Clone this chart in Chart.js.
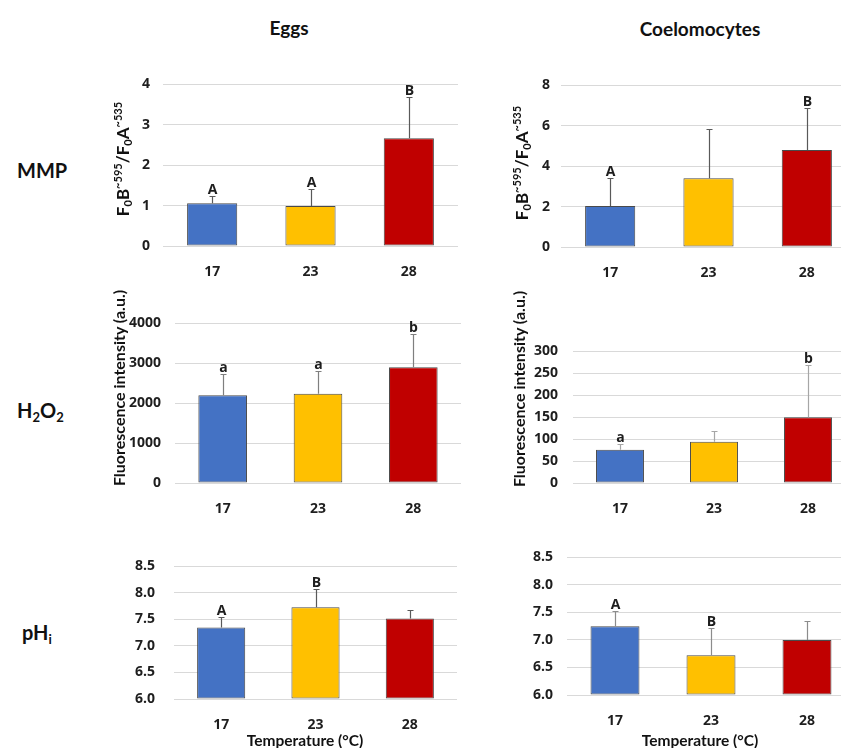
<!DOCTYPE html>
<html>
<head>
<meta charset="utf-8">
<script src="https://cdn.jsdelivr.net/npm/chart.js@4.4.1/dist/chart.umd.min.js"></script>
<style>
  html, body { margin:0; padding:0; background:#fff; overflow:hidden; }
  body { width:841px; height:748px; position:relative; font-family:Lato, "DejaVu Sans", sans-serif; color:#111; }
  canvas.pane { position:absolute; }
  .lbl { position:absolute; font-weight:700; white-space:nowrap; line-height:1; transform:translate(0,-50%); }
  .ctr { transform:translate(-50%,-50%); }
  .ytitle { position:absolute; font-weight:700; white-space:nowrap; line-height:1; transform:translate(-50%,-50%) rotate(-90deg); }
  .lbl sub, .ytitle sub { font-size:0.65em; vertical-align:-0.3em; line-height:0; }
  .ytitle sup { font-size:0.65em; vertical-align:0.55em; line-height:0; }
</style>
</head>
<body>
<div class="lbl ctr" style="left:289px;top:27px;font-size:19px">Eggs</div>
<div class="lbl ctr" style="left:700px;top:28px;font-size:19px">Coelomocytes</div>

<div class="lbl" style="left:17px;top:170px;font-size:20px">MMP</div>
<div class="lbl" style="left:17px;top:410px;font-size:20px">H<sub>2</sub>O<sub>2</sub></div>
<div class="lbl" style="left:22px;top:632px;font-size:20px">pH<sub>i</sub></div>

<div class="ytitle" style="left:122px;top:159px;font-size:17px">F<sub>0</sub>B<sup>~595</sup>/F<sub>0</sub>A<sup>~535</sup></div>
<div class="ytitle" style="left:521px;top:163px;font-size:17px">F<sub>0</sub>B<sup>~595</sup>/F<sub>0</sub>A<sup>~535</sup></div>
<div class="ytitle" style="left:119px;top:388px;font-size:16px">Fluorescence intensity (a.u.)</div>
<div class="ytitle" style="left:519px;top:389px;font-size:16px">Fluorescence intensity (a.u.)</div>

<div class="lbl ctr" style="left:305px;top:741px;font-size:15.5px">Temperature (°C)</div>
<div class="lbl ctr" style="left:700px;top:741px;font-size:15.5px">Temperature (°C)</div>

<script>
// temperatures (°C) and bar colours
const temps = ["17", "23", "28"];
const barColors = ["#4472C4", "#FFC000", "#C00000"];

// MMP
const eggsMmp = [1.06, 0.99, 2.67];
const eggsMmpSd = [0.18, 0.42, 1.03];
const eggsMmpLetters = ["A", "A", "B"];
const coeloMmp = [2.03, 3.40, 4.80];
const coeloMmpSd = [1.37, 2.42, 2.08];
const coeloMmpLetters = ["A", "", "B"];

// H2O2
const eggsH2o2 = [2200, 2238, 2902];
const eggsH2o2Sd = [533, 579, 827];
const eggsH2o2Letters = ["a", "a", "b"];
const coeloH2o2 = [76, 94, 150];
const coeloH2o2Sd = [12, 25, 118];
const coeloH2o2Letters = ["a", "", "b"];

// pHi
const eggsPh = [7.35, 7.73, 7.52];
const eggsPhSd = [0.19, 0.35, 0.15];
const eggsPhLetters = ["A", "B", ""];
const coeloPh = [7.25, 6.72, 7.00];
const coeloPhSd = [0.27, 0.49, 0.34];
const coeloPhLetters = ["A", "B", ""];

const tickFont = { family: "'Open Sans'", size: 14, weight: "bold" };
const Y_W = 50, X_H = 34, PAD_TOP = 10;

const errBars = {
  id: "errbars",
  afterDatasetsDraw(chart, args, opts){
    const ctx = chart.ctx;
    const y = chart.scales.y;
    const vals = chart.data.datasets[0].data;
    chart.getDatasetMeta(0).data.forEach((bar, i) => {
      const top = Math.round(y.getPixelForValue(vals[i] + opts.sd[i]));
      const x = Math.round(bar.x) + 0.5;
      ctx.save();
      ctx.strokeStyle = opts.color;
      ctx.lineWidth = 1.2;
      ctx.beginPath();
      ctx.moveTo(x, bar.y);
      ctx.lineTo(x, top);
      ctx.moveTo(x - 3, top + 0.5);
      ctx.lineTo(x + 3, top + 0.5);
      ctx.stroke();
      if(opts.letters[i]){
        ctx.fillStyle = "#1e1e1e";
        ctx.font = "bold 14px 'Open Sans'";
        ctx.textAlign = "center";
        ctx.textBaseline = "alphabetic";
        ctx.fillText(opts.letters[i], x, top - 2);
      }
      ctx.restore();
    });
  }
};

// area = chart area edges in page pixels
function makePanel(area, values, sd, letters, yMin, yMax, step, tickPad, errColor, decimals){
  const cv = document.createElement("canvas");
  cv.className = "pane";
  const left = area.l - Y_W, top = area.t - PAD_TOP;
  const w = area.r - left, h = area.b + X_H - top;
  cv.width = w; cv.height = h;
  cv.style.left = left + "px"; cv.style.top = top + "px";
  cv.style.width = w + "px"; cv.style.height = h + "px";
  document.body.insertBefore(cv, document.body.firstChild);

  new Chart(cv, {
    type: "bar",
    data: { labels: temps, datasets: [{
      data: values,
      backgroundColor: barColors,
      borderColor: "#4a4a4a",
      borderWidth: 1,
      borderSkipped: false,
      base: yMin,
      barPercentage: 0.51,
      categoryPercentage: 1
    }]},
    options: {
      responsive: false,
      animation: false,
      devicePixelRatio: 1,
      layout: { padding: { top: PAD_TOP, right: 0, bottom: 0, left: 0 } },
      plugins: {
        legend: { display: false },
        tooltip: { enabled: false },
        errbars: { sd, letters, color: errColor }
      },
      scales: {
        x: {
          grid: { display: false },
          border: { display: false },
          ticks: { padding: 10, color: "#1e1e1e", font: tickFont },
          afterFit: s => { s.height = X_H; }
        },
        y: {
          min: yMin, max: yMax,
          grid: { color: "#d9d9d9", drawTicks: false },
          border: { display: false },
          ticks: {
            stepSize: step, padding: tickPad, color: "#1e1e1e", font: tickFont,
            callback: v => decimals ? Number(v).toFixed(decimals) : v
          },
          afterFit: s => { s.width = Y_W; }
        }
      }
    },
    plugins: [errBars]
  });
}

makePanel({ l:163, r:458, t:73, b:246 }, eggsMmp, eggsMmpSd, eggsMmpLetters, 0, 4, 1, 13, "#595959", 0);
makePanel({ l:561, r:856, t:76, b:247 }, coeloMmp, coeloMmpSd, coeloMmpLetters, 0, 8, 2, 11, "#595959", 0);
makePanel({ l:175, r:461, t:311, b:483 }, eggsH2o2, eggsH2o2Sd, eggsH2o2Letters, 0, 4000, 1000, 14, "#7f7f7f", 0);
makePanel({ l:573, r:855, t:338, b:483 }, coeloH2o2, coeloH2o2Sd, coeloH2o2Letters, 0, 300, 50, 15, "#a6a6a6", 0);
makePanel({ l:174, r:457, t:549, b:699 }, eggsPh, eggsPhSd, eggsPhLetters, 6, 8.5, 0.5, 19, "#595959", 1);
makePanel({ l:567, r:855, t:545, b:695 }, coeloPh, coeloPhSd, coeloPhLetters, 6, 8.5, 0.5, 14, "#8c8c8c", 1);
</script>
</body>
</html>
